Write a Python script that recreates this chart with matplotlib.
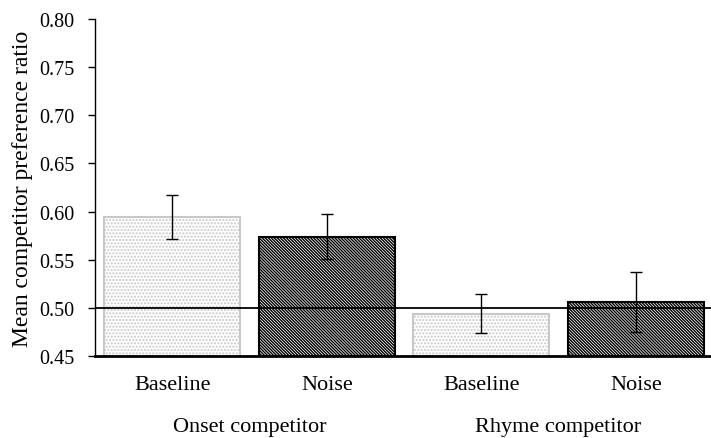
import numpy as np
import matplotlib
matplotlib.use("Agg")
from matplotlib import pyplot as plt

# data
conditions = ["Baseline", "Noise", "Baseline", "Noise"]
groups = ["Onset competitor", "Rhyme competitor"]
means = [0.594, 0.574, 0.494, 0.506]
errors = [0.023, 0.0235, 0.020, 0.031]
chance = 0.50

plt.rcParams['font.family'] = ['Liberation Serif', 'DejaVu Serif']
plt.rcParams['hatch.linewidth'] = 1.0

fig = plt.figure(figsize=(7.11, 4.39), dpi=100)
ax = fig.add_axes([95/711, 1-357/439, 618/711, 337/439])

x = np.arange(len(means))
bottom = 0.45
for i in range(len(means)):
    if conditions[i] == "Baseline":
        plt.rcParams['hatch.color'] = '#c8c8c8'
        ax.bar(x[i], means[i]-bottom, bottom=bottom, width=0.88, color='white',
               edgecolor='#c8c8c8', linewidth=1.5, hatch='.....', zorder=2)
    else:
        plt.rcParams['hatch.color'] = 'black'
        ax.bar(x[i], means[i]-bottom, bottom=bottom, width=0.88, color='white',
               edgecolor='black', linewidth=1.5, hatch='\\'*11, zorder=2)

ax.errorbar(x, means, yerr=errors, fmt='none', ecolor='black', elinewidth=1,
            capsize=4, capthick=1, zorder=4)
ax.axhline(chance, color='black', linewidth=1.3, zorder=3)

ax.set_xlim(-0.5, 3.5)
ax.set_ylim(0.45, 0.80)
ticks = np.arange(0.45, 0.801, 0.05)
ax.set_yticks(ticks)
ax.set_yticklabels(["%.2f" % v for v in ticks], fontsize=14.5)
ax.set_xticks(x)
ax.set_xticklabels(conditions, fontsize=16)
ax.tick_params(axis='x', length=0, pad=14)
ax.tick_params(axis='y', direction='out', length=5, width=1, pad=10)
ax.spines['top'].set_visible(False)
ax.spines['right'].set_visible(False)
ax.spines['bottom'].set_linewidth(2)
ax.spines['left'].set_linewidth(1)
ax.set_ylabel("Mean competitor preference ratio", fontsize=17, labelpad=4)

for j, g in enumerate(groups):
    ax.text(2*j+0.5, -0.2226, g, transform=ax.get_xaxis_transform(),
            ha='center', va='baseline', fontsize=16)

fig.savefig("out.png", dpi=100)
